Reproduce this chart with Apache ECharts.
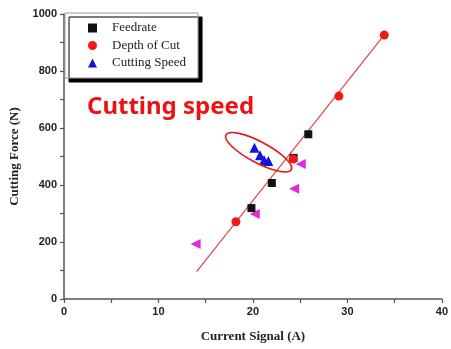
<!DOCTYPE html>
<html>
<head>
<meta charset="utf-8">
<script src="https://cdn.jsdelivr.net/npm/echarts@6/dist/echarts.min.js"></script>
<style>
  html, body { margin: 0; padding: 0; background: #fff; }
  #chart { width: 451px; height: 349px; }
</style>
</head>
<body>
<div id="chart"></div>
<script>
// Cutting force vs. spindle current signal
const xTicks = [0, 10, 20, 30, 40];
const yTicks = [0, 200, 400, 600, 800, 1000];

const feedrate = [[19.84, 319], [22.0, 407], [24.3, 495], [25.86, 578]];
const depthOfCut = [[18.2, 271], [24.25, 491], [29.1, 712], [33.9, 926]];
const cuttingSpeed = [[20.16, 531], [20.75, 504], [21.18, 488], [21.63, 484]];
const otherPoints = [[13.93, 193], [20.19, 298], [24.36, 387], [25.06, 474]];
const fitLine = [[14.04, 96], [33.9, 927]];

// annotation ellipse around the cutting-speed cluster (data units for its centre)
const clusterCentre = [20.6, 515];

const chart = echarts.init(document.getElementById('chart'));

const axisCommon = {
  axisLine: { show: true, onZero: false, lineStyle: { color: '#555', width: 1.5 } },
  axisTick: { show: true, inside: false, length: 4, lineStyle: { color: '#555', width: 1.2 } },
  minorTick: { show: true, splitNumber: 2, length: 4, lineStyle: { color: '#555', width: 1.2 } },
  splitLine: { show: false },
  axisLabel: {
    color: '#222', fontFamily: 'Liberation Sans', fontWeight: 'bold', fontSize: 11,
    margin: 7, formatter: v => String(v)
  },
  nameTextStyle: { color: '#222', fontFamily: 'Liberation Serif', fontWeight: 'bold', fontSize: 13 }
};

chart.setOption({
  animation: false,
  backgroundColor: '#fff',
  grid: { left: 64, right: 6, top: 14, bottom: 50, containLabel: false },
  xAxis: Object.assign({}, axisCommon, {
    type: 'value', min: xTicks[0], max: xTicks[xTicks.length - 1], interval: 10,
    name: 'Current Signal (A)', nameLocation: 'middle', nameGap: 31
  }),
  yAxis: Object.assign({}, axisCommon, {
    type: 'value', min: yTicks[0], max: yTicks[yTicks.length - 1], interval: 200,
    name: 'Cutting Force (N)', nameLocation: 'middle', nameGap: 40
  }),
  legend: {
    orient: 'vertical', left: 65, top: 13,
    padding: [8, 12, 8, 23],
    itemWidth: 9, itemHeight: 9, itemGap: 3.5,
    backgroundColor: '#fff', borderColor: '#999', borderWidth: 1,
    shadowColor: '#000', shadowBlur: 0, shadowOffsetX: 4, shadowOffsetY: 4,
    textStyle: { fontFamily: 'Liberation Serif', fontSize: 13, color: '#222', lineHeight: 14, padding: [0, 0, 0, 10] },
    data: [
      { name: 'Feedrate', icon: 'rect' },
      { name: 'Depth of Cut', icon: 'circle' },
      { name: 'Cutting Speed', icon: 'triangle' }
    ]
  },
  series: [
    {
      name: 'Fit', type: 'line', data: fitLine, symbol: 'none',
      lineStyle: { color: '#d84848', width: 1.2 }, z: 1
    },
    {
      name: 'Other', type: 'scatter', data: otherPoints, symbol: 'triangle',
      symbolRotate: 90, symbolSize: 10, itemStyle: { color: '#e028e0', opacity: 1 }, z: 2
    },
    {
      name: 'Feedrate', type: 'scatter', data: feedrate, symbol: 'rect',
      symbolSize: 8, itemStyle: { color: '#111', opacity: 1 }, z: 3
    },
    {
      name: 'Depth of Cut', type: 'scatter', data: depthOfCut, symbol: 'circle',
      symbolSize: 9, itemStyle: { color: '#f01818', opacity: 1 }, z: 4
    },
    {
      name: 'Cutting Speed', type: 'scatter', data: cuttingSpeed, symbol: 'triangle',
      symbolSize: 10, itemStyle: { color: '#1414d8', opacity: 1 }, z: 5
    }
  ]
});

// annotations: ellipse around the cluster and its caption
const c = chart.convertToPixel({ gridIndex: 0 }, clusterCentre);
chart.setOption({
  graphic: [
    {
      type: 'ellipse', x: c[0], y: c[1], rotation: -28 * Math.PI / 180,
      shape: { cx: 0, cy: 0, rx: 37, ry: 10.5 },
      style: { fill: 'none', stroke: '#e01818', lineWidth: 1.6 }, z: 10
    },
    {
      type: 'text', left: 87, top: 95,
      style: { text: 'Cutting speed', fill: '#ee1111', font: 'bold 24px "Noto Sans"' }, z: 10
    }
  ]
});
</script>
</body>
</html>
